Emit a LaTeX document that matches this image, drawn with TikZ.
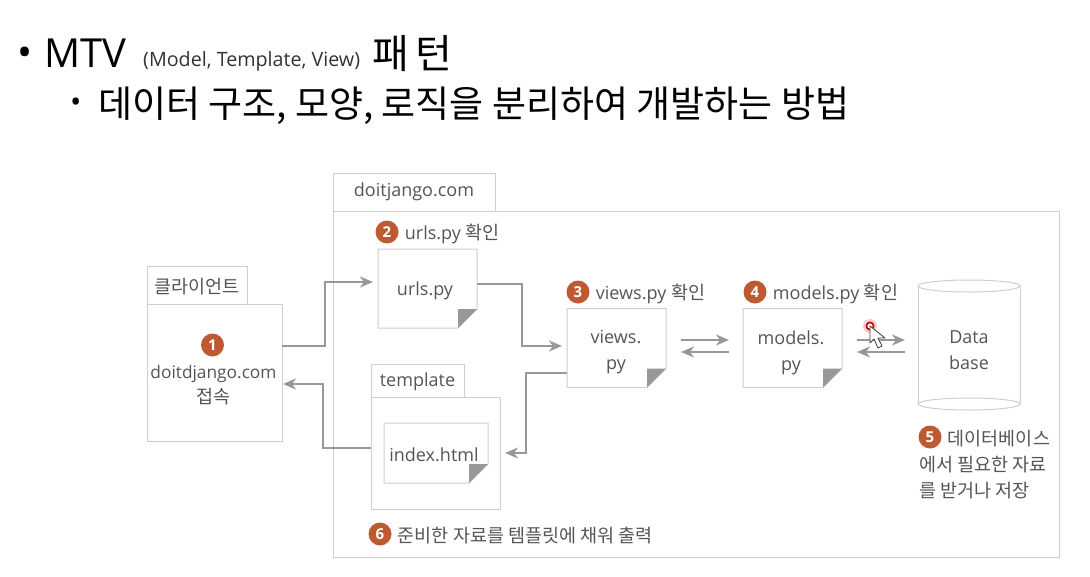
\documentclass[tikz,border=0pt]{standalone}
\usepackage{fontspec}
\setmainfont{Open Sans}
\newfontfamily\kr{Noto Sans CJK KR}
\usetikzlibrary{calc}
\usetikzlibrary{positioning,arrows.meta}
\definecolor{boxline}{HTML}{CFCFCF}
\definecolor{flowline}{HTML}{989898}
\definecolor{labeltext}{HTML}{555555}
\definecolor{badge}{HTML}{BE5A32}
\newcommand{\lab}{\fontsize{18}{26}\selectfont}
\newcommand{\labkr}{\kr\fontsize{18.5}{26.5}\selectfont}
\tikzset{
    panel/.style={draw=boxline, line width=1pt, inner sep=0pt, outer sep=0pt},
    txt/.style={text=labeltext, inner sep=0pt, font=\lab, align=center, yshift=-1.5pt},
    stepnum/.style={circle, fill=badge, text=white, inner sep=0pt, minimum size=23pt,
        font=\fontsize{15}{15}\selectfont\bfseries},
    flow/.style={draw=flowline, line width=2pt, -{Stealth[length=13pt,width=11pt,inset=4pt]}}
}
\begin{document}
\begin{tikzpicture}[x=1pt, y=-1pt]
        \useasboundingbox (0,0) rectangle (1090,576);
        % heading
        \node [anchor=west, inner sep=0pt, font=\fontsize{40}{40}\selectfont] (bulletone) at (17,57) {•};
        \node [anchor=west, inner sep=0pt, font=\fontsize{40}{40}\selectfont] (mtv) at (44,53) {MTV};
        \node [anchor=west, inner sep=0pt, font=\fontsize{19.7}{20}\selectfont, text=black!80] (mtvnote) at (143,61) {(Model, Template, View)};
        \node [anchor=west, inner sep=0pt, font=\kr\fontsize{40}{40}\selectfont, text depth=0pt] (pattern) at (372,52) {패\,턴};
        \node [anchor=west, inner sep=0pt, font=\fontsize{30}{30}\selectfont] (bullettwo) at (70,105) {•};
        \node [anchor=west, inner sep=0pt, font=\kr\fontsize{37}{37}\selectfont] (subtitle) at (98,106) {데이터 구조, 모양, 로직을 분리하여 개발하는 방법};
        % boxes
        \node [panel, minimum width=726pt, minimum height=346pt] (site) at (696,384) {};
        \node [panel, minimum width=162pt, minimum height=38pt] (sitetab) at (414,192) {};
        \node [txt] at (414,190.5) {doitjango.com};
        \node [panel, minimum width=135pt, minimum height=137pt] (client) at (214.5,372.5) {};
        \node [panel, minimum width=100pt, minimum height=38pt] (clienttab) at (197,285) {};
        \node [txt, font=\labkr] at (197,285) {클라이언트};
        \node [txt, font=\fontsize{17.3}{25}\selectfont] at (213.5,384) {doitdjango.com\\{\labkr 접속}};
        \node [panel, minimum width=129pt, minimum height=112pt] (tmpl) at (435.5,453) {};
        \node [panel, minimum width=93pt, minimum height=33pt] (tmpltab) at (417.5,380.5) {};
        \node [txt] at (417.5,380.5) {template};
        % documents
        \node [minimum width=99pt, minimum height=79pt, inner sep=0pt, outer sep=0pt] (urls) at (427.5,288.5) {};
        \node [minimum width=99pt, minimum height=79pt, inner sep=0pt, outer sep=0pt] (views) at (616.5,348) {};
        \node [minimum width=99pt, minimum height=79pt, inner sep=0pt, outer sep=0pt] (models) at (792.5,348) {};
        \node [minimum width=104pt, minimum height=60pt, inner sep=0pt, outer sep=0pt] (indexdoc) at (436,453) {};
        \foreach \n in {urls,views,models,indexdoc} {
            \draw [boxline, line width=1pt, fill=white] (\n.north west) -- (\n.north east) -- ($(\n.south east)+(0,-19)$)
                -- ($(\n.south east)+(-19,0)$) -- (\n.south west) -- cycle;
            \fill [flowline] ($(\n.south east)+(-19,0)$) -- ($(\n.south east)+(-19,-19)$) -- ($(\n.south east)+(0,-19)$) -- cycle;
        }
        \node [txt] at (425,289) {urls.py};
        \node [txt] at (616,351) {views.\\py};
        \node [txt] at (791,351) {models.\\py};
        \node [txt] at (434,453) {index.html};
        \node [minimum width=102pt, minimum height=118pt, inner sep=0pt, outer sep=0pt] (dbase) at (969,345) {};
        \draw [boxline, line width=1pt] (dbase.north west) -- (dbase.south west);
        \draw [boxline, line width=1pt] (dbase.north east) -- (dbase.south east);
        \draw [boxline, line width=1pt] (dbase.north) ellipse (51pt and 6pt);
        \draw [boxline, line width=1pt] (dbase.south) ellipse (51pt and 6pt);
        \node [txt] at (969,349) {Data\\base};
        % steps
        \node [stepnum] (stepone) at (212.5,345) {1};
        \node [stepnum] (steptwo) at (387,232) {2};
        \node [stepnum] (stepthree) at (578,292) {3};
        \node [stepnum] (stepfour) at (755,292) {4};
        \node [stepnum] (stepfive) at (930,437) {5};
        \node [stepnum] (stepsix) at (380,534) {6};
        \node [txt, right=6pt of steptwo] {urls.py {\labkr 확인}};
        \node [txt, right=6pt of stepthree] {views.py {\labkr 확인}};
        \node [txt, right=6pt of stepfour] {models.py {\labkr 확인}};
        \node [txt, right=6pt of stepfive, font=\labkr] (dbnote) {데이터베이스};
        \node [txt, anchor=north west, align=left, font=\labkr] at (919,454) {에서 필요한 자료\\를 받거나 저장};
        \node [txt, right=6pt of stepsix, font=\labkr] {준비한 자료를 템플릿에 채워 출력};
        % connectors
        \coordinate (upin) at (373,282);
        \coordinate (viewin) at (562,346);
        \coordinate (indexin) at (505,453);
        \coordinate (clientin) at (283,384);
        \draw [flow] ([yshift=26.5pt]client.east) -- ++(43,0) |- (upin);
        \draw [flow] ([yshift=4.5pt]urls.east) -- ++(45,0) |- (viewin);
        \draw [flow] ([yshift=-25pt]views.west) -- ++(-41,0) |- (indexin);
        \draw [flow] ([yshift=5pt]tmpl.west) -- ++(-48,0) |- (clientin);
        \draw [flow] ([xshift=15pt,yshift=8pt]views.east) -- ([xshift=-14pt,yshift=8pt]models.west);
        \draw [flow] ([xshift=-14pt,yshift=-4pt]models.west) -- ([xshift=15pt,yshift=-4pt]views.east);
        \draw [flow] ([xshift=15pt,yshift=8pt]models.east) -- ([xshift=-13pt,yshift=5pt]dbase.west);
        \draw [flow] ([xshift=-13pt,yshift=-7pt]dbase.west) -- ([xshift=15pt,yshift=-4pt]models.east);
        % mouse pointer
        \fill [red!35, opacity=0.6] (870,326) circle (7pt);
        \draw [red!75!black, line width=1.6pt, fill=white] (870,326) circle (3.6pt);
        \draw [black!75, line width=0.8pt, fill=white, line join=round] (870,326) -- (870,343) -- (874,339) -- (878,348)
            -- (882,346) -- (878,338) -- (885,338) -- cycle;
    \end{tikzpicture}
\end{document}
